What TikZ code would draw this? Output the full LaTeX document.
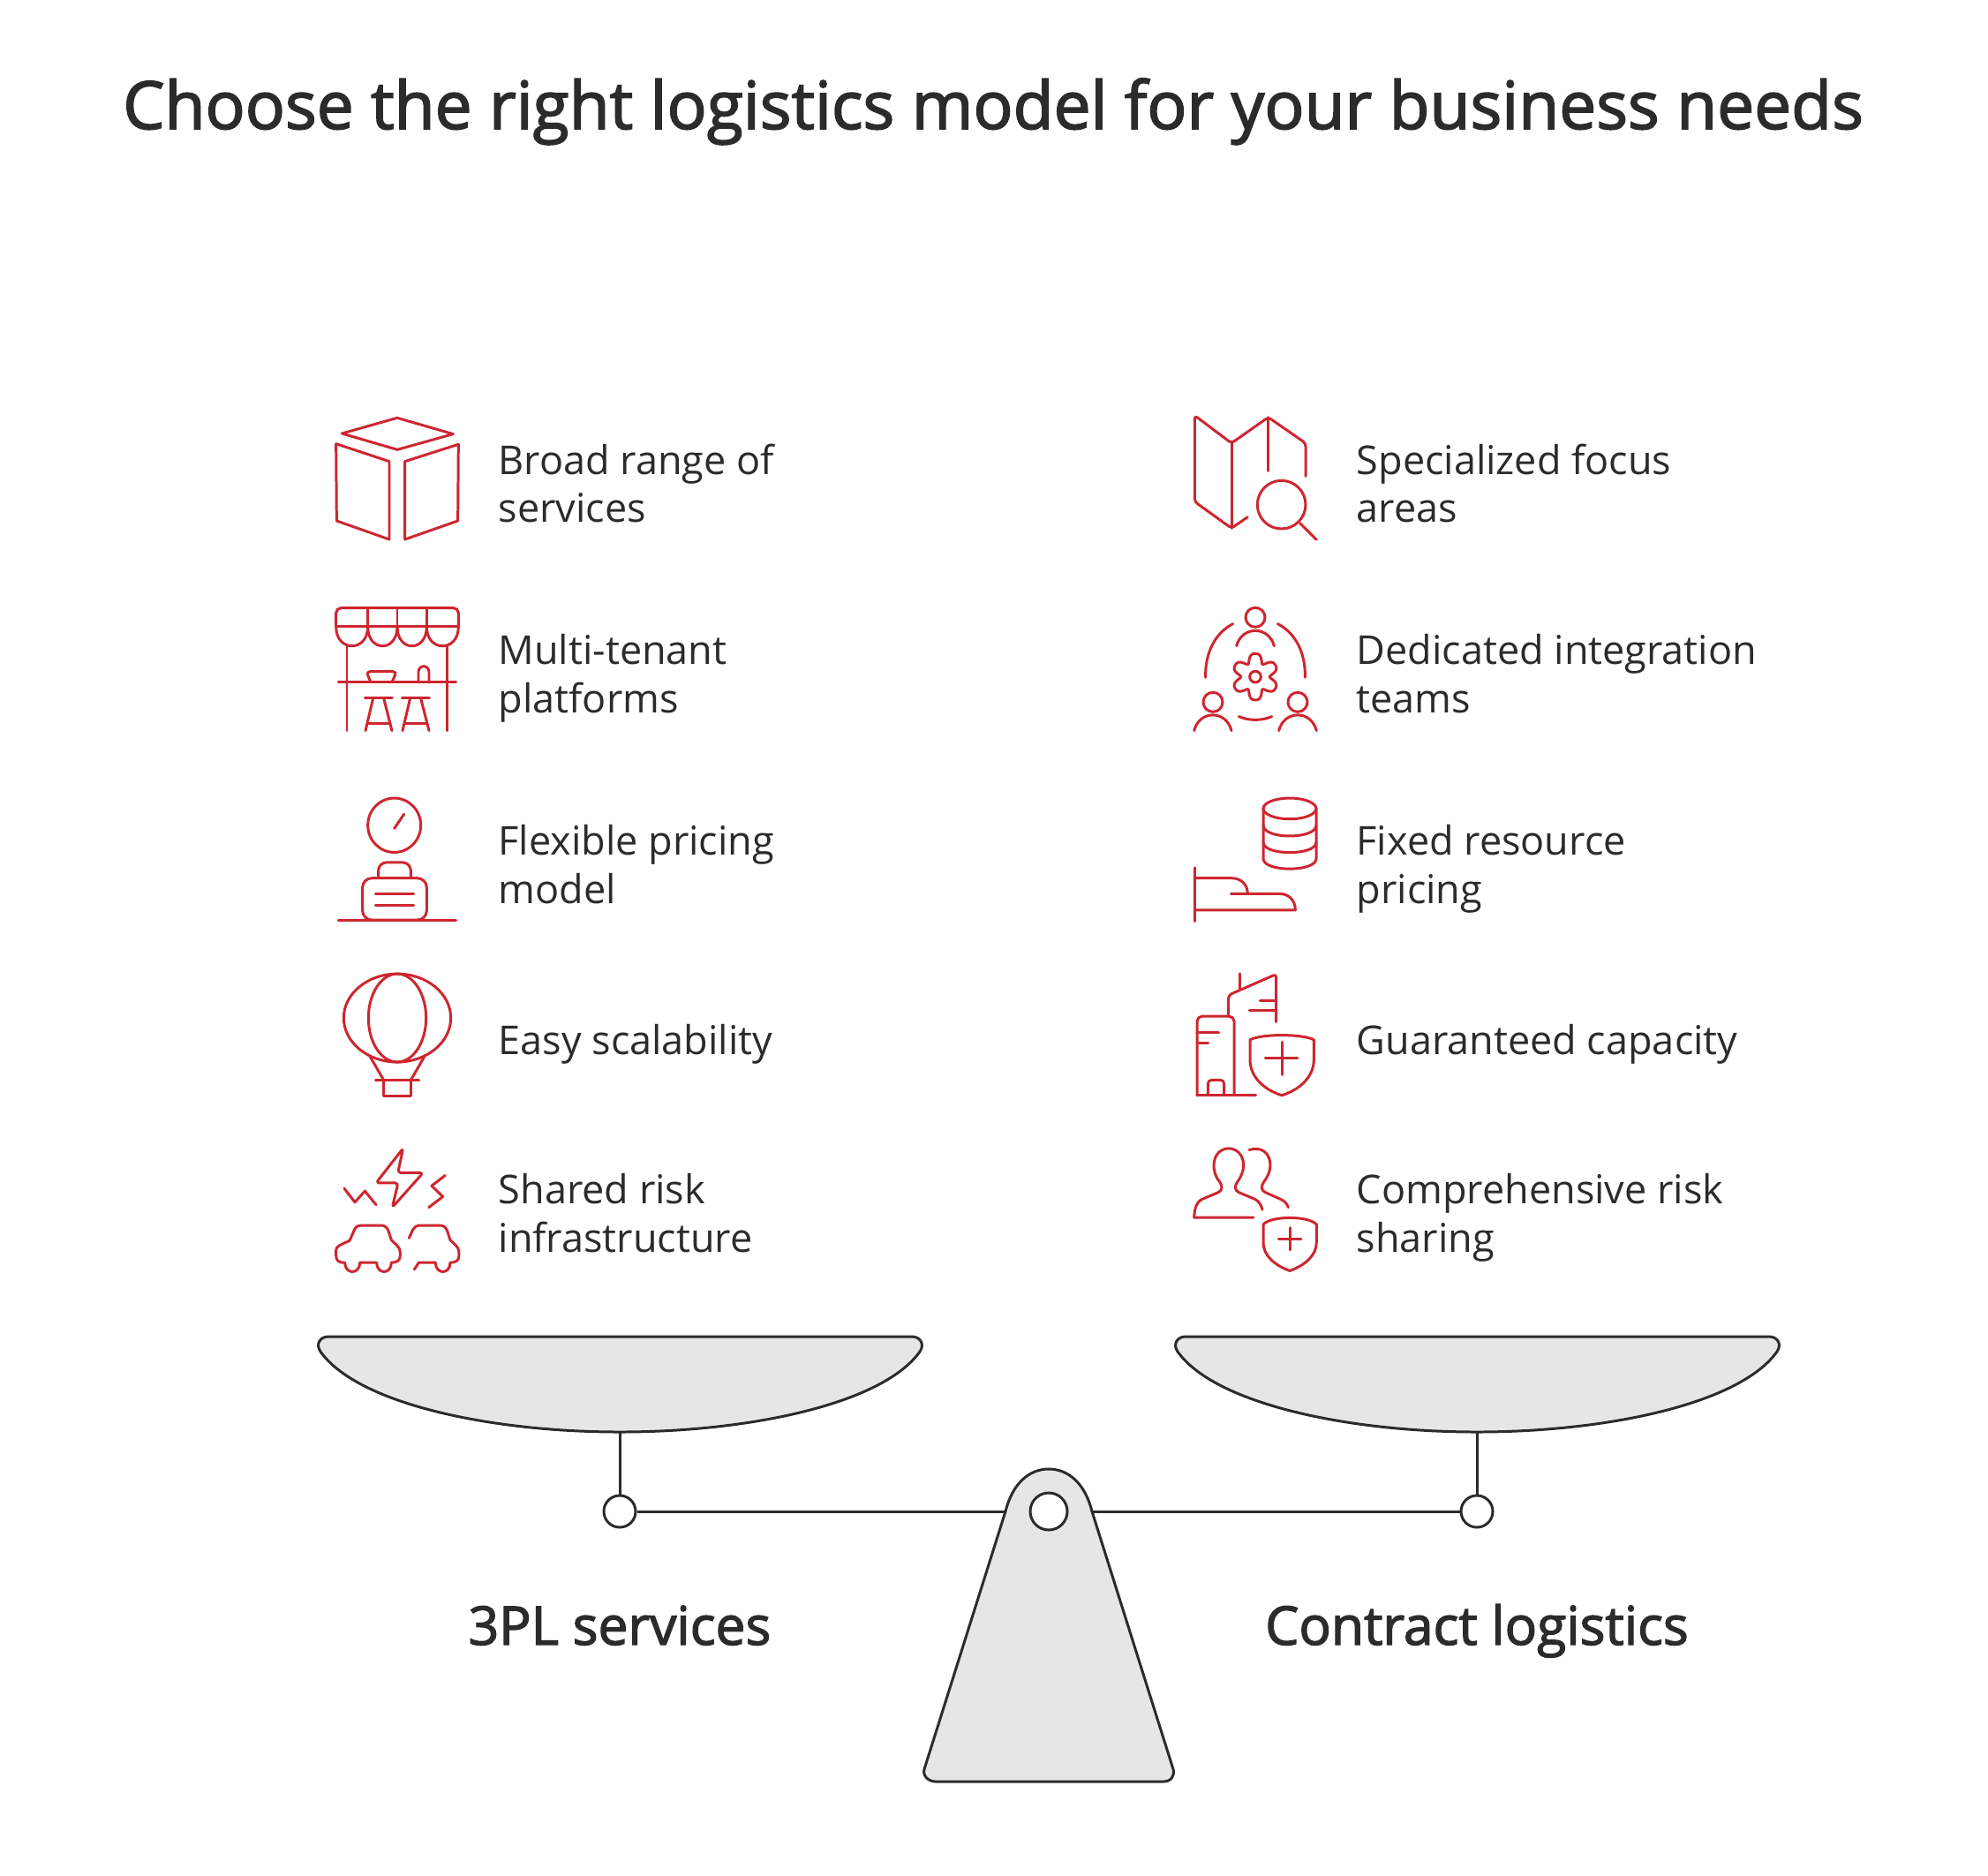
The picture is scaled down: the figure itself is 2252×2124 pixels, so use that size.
\documentclass[tikz,border=0pt]{standalone}
\usepackage{fontspec}
\setmainfont{Open Sans}
\newfontfamily\headfont[FakeBold=2.2]{Open Sans}
\usepackage{tikz}
\usetikzlibrary{backgrounds,positioning,calc}
\definecolor{iconred}{HTML}{CE2630}
\definecolor{inkgray}{HTML}{2B2B2B}
\definecolor{panfill}{HTML}{E6E6E6}
\tikzstyle{hinge}=[circle, draw=inkgray, fill=white, line width=0.85pt, inner sep=0pt, minimum size=0.36cm]
\tikzstyle{label}=[anchor=west, align=left, inner sep=0pt, text=inkgray, font=\fontsize{12.8pt}{15.4pt}\selectfont, execute at begin node=\strut, execute at end node=\strut]
\tikzstyle{side}=[anchor=base, inner sep=0pt, text=inkgray, font=\headfont\fontsize{17.2pt}{20pt}\selectfont]
\begin{document}
\begin{tikzpicture}[x=0.01cm,y=-0.01cm,
  icon/.style={draw=iconred,line width=0.85pt,line cap=round,line join=round},
  scalepart/.style={draw=inkgray,line width=0.85pt,fill=panfill,line join=round},
  zoomB/.style={xscale=0.3333,yscale=0.37}]
\useasboundingbox (0,0) rectangle (2252,2124);
\node (title) at (1125,146)[anchor=base,inner sep=0pt,text=inkgray,font=\headfont\fontsize{21.3pt}{26pt}\selectfont] {Choose the right logistics model for your business needs};

\node (t1) at (564,555)[label] {Broad range of\\services};
\node (t2) at (564,771)[label] {Multi-tenant\\platforms};
\node (t3) at (564,987)[label] {Flexible pricing\\model};
\node (t4) at (564,1184)[label] {Easy scalability};
\node (t5) at (564,1382)[label] {Shared risk\\infrastructure};
\node (r1) at (1536,555)[label] {Specialized focus\\areas};
\node (r2) at (1536,771)[label] {Dedicated integration\\teams};
\node (r3) at (1536,987)[label] {Fixed resource\\pricing};
\node (r4) at (1536,1184)[label] {Guaranteed capacity};
\node (r5) at (1536,1382)[label] {Comprehensive risk\\sharing};

\begin{scope}[shift={(360,450)},xscale=0.3333,yscale=0.3333]
\draw[icon] (270,70) -- (460,125) -- (270,178) -- (82,123) -- cycle;
\draw[icon] (62,158) -- (243,218) -- (243,483) -- (64,420) -- cycle;
\draw[icon] (296,218) -- (478,160) -- (476,420) -- (296,483) -- cycle;

\draw[icon,rounded corners=1.6pt] (62,780) -- (62,716) -- (478,716) -- (478,780);
\draw[icon] (62,780) -- (478,780);
\foreach \xa/\xb in {62/170,170/270,270/370,370/478}
  \draw[icon] (\xa,780) .. controls (\xa,867) and (\xb,867) .. (\xb,780);
\foreach \xa in {170,270,370}
  \draw[icon] (\xa,716) -- (\xa,780);
\draw[icon] (99,845) -- (99,1133);
\draw[icon] (441,845) -- (441,1133);
\draw[icon] (70,968) -- (470,968);
\draw[icon,rounded corners=1.2pt] (180,968) -- (165,932) -- (268,932) -- (252,968);
\draw[icon,rounded corners=1.8pt] (342,968) -- (342,914) -- (378,914) -- (378,968);
\foreach \xa in {0,126} {
  \draw[icon] (160+\xa,1023) -- (253+\xa,1023);
  \draw[icon] (188+\xa,1023) -- (162+\xa,1133);
  \draw[icon] (224+\xa,1023) -- (252+\xa,1133);
  \draw[icon] (172+\xa,1110) -- (242+\xa,1110);
}
\end{scope}

\begin{scope}[shift={(360,880)},zoomB]
\draw[icon] (260,148) ellipse [x radius=90,y radius=83];
\draw[icon] (260,158) -- (293,114);
\draw[icon,rounded corners=2.6pt] (206,308) -- (206,262) -- (316,262) -- (316,308);
\draw[icon,rounded corners=3pt] (152,310) rectangle (370,438);
\draw[icon] (196,358) -- (326,358);
\draw[icon] (196,392) -- (326,392);
\draw[icon] (70,439) -- (470,439);

\draw[icon] (270,738) ellipse [x radius=182,y radius=135];
\draw[icon] (270,738) ellipse [x radius=98,y radius=135];
\draw[icon] (175,852) -- (225,930);
\draw[icon] (365,852) -- (315,930);
\draw[icon] (196,929) -- (344,929);
\draw[icon] (224,930) -- (224,978) -- (316,978) -- (316,930);

\draw[icon,rounded corners=1pt] (290,1137) -- (272,1212) -- (358,1212) -- (253,1318) -- (273,1243) -- (198,1243) -- cycle;
\draw[icon] (90,1260) -- (126,1302) -- (160,1268) -- (198,1310);
\draw[icon] (433,1220) -- (387,1252) -- (425,1285) -- (377,1318);
\draw[icon] (108,1420) -- (125,1385) .. controls (130,1376) and (138,1373) .. (148,1373) -- (215,1373) .. controls (228,1373) and (236,1380) .. (240,1390) -- (250,1418) .. controls (260,1428) and (280,1438) .. (280,1455) -- (280,1465) .. controls (280,1480) and (270,1487) .. (250,1487)
  .. controls (250,1524) and (200,1524) .. (200,1487) -- (143,1487) .. controls (143,1524) and (92,1524) .. (92,1487) -- (85,1487) .. controls (70,1487) and (62,1478) .. (62,1465) -- (62,1450) .. controls (62,1438) and (70,1435) .. (108,1420) -- cycle;
\draw[icon] (310,1412) -- (322,1388) .. controls (328,1378) and (336,1373) .. (348,1373) -- (415,1373) .. controls (428,1373) and (436,1380) .. (440,1390) -- (450,1418) .. controls (460,1428) and (480,1438) .. (480,1455) -- (480,1465) .. controls (480,1480) and (470,1487) .. (450,1487)
  .. controls (450,1524) and (400,1524) .. (400,1487) -- (343,1487) -- (328,1508);
\end{scope}

\begin{scope}[shift={(1330,450)},xscale=0.3333,yscale=0.3333]
\draw[icon,rounded corners=1pt] (250,407) -- (195,445) -- (70,355) -- (70,62) -- (195,156) -- (320,68) -- (447,156) -- (447,268);
\draw[icon] (195,156) -- (195,445);
\draw[icon] (320,68) -- (320,250);
\draw[icon] (365,365) circle [radius=82];
\draw[icon] (428,428) -- (484,484);

\draw[icon] (276,748) circle [radius=33];
\draw[icon] (212,845) .. controls (230,776) and (322,776) .. (340,845);
\draw[icon] (132,1036) circle [radius=33];
\draw[icon] (68,1133) .. controls (86,1062) and (177,1062) .. (195,1133);
\draw[icon] (420,1036) circle [radius=33];
\draw[icon] (356,1133) .. controls (374,1062) and (466,1062) .. (484,1133);
\draw[icon] (200,770) .. controls (140,800) and (104,870) .. (107,952);
\draw[icon] (352,770) .. controls (412,800) and (448,870) .. (445,952);
\draw[icon] (220,1085) .. controls (255,1100) and (297,1100) .. (332,1085);
\draw[icon] plot[smooth,samples=121,domain=0:360] ({276+(67+15*cos(6*\x)-3*cos(12*\x))*cos(\x+90)},{950+(67+15*cos(6*\x)-3*cos(12*\x))*sin(\x+90)});
\draw[icon] (276,950) circle [radius=19];
\end{scope}

\begin{scope}[shift={(1330,880)},zoomB]
\draw[icon] (393,97) ellipse [x radius=90,y radius=32];
\draw[icon] (303,97) -- (303,250) .. controls (303,292) and (483,292) .. (483,250) -- (483,97);
\draw[icon] (303,148) .. controls (303,192) and (483,192) .. (483,148);
\draw[icon] (303,200) .. controls (303,242) and (483,242) .. (483,200);
\draw[icon] (69,278) -- (69,442);
\draw[icon] (69,310) -- (195,310) .. controls (228,310) and (250,330) .. (250,358);
\draw[icon] (193,358) -- (360,358) .. controls (392,358) and (412,380) .. (412,408) -- (69,408);

\draw[icon] (222,602) -- (222,648);
\draw[icon,rounded corners=1pt] (185,730) -- (185,668) -- (347,604) -- (347,750);
\draw[icon] (292,684) -- (347,684);
\draw[icon] (256,716) -- (347,716);
\draw[icon,rounded corners=1.6pt] (78,975) -- (78,733) -- (204,733) -- (204,975);
\draw[icon] (78,975) -- (278,975);
\draw[icon] (78,782) -- (152,782);
\draw[icon] (78,814) -- (116,814);
\draw[icon,rounded corners=1.2pt] (115,975) -- (115,928) -- (170,928) -- (170,975);
\draw[icon] (258,805) .. controls (295,786) and (437,786) .. (475,805) -- (475,865) .. controls (475,920) and (425,958) .. (366,975) .. controls (307,958) and (258,920) .. (258,865) -- cycle;
\draw[icon] (310,862) -- (420,862);
\draw[icon] (366,812) -- (366,912);

\draw[icon] (270,1349) -- (68,1349) .. controls (70,1320) and (75,1302) .. (95,1293) -- (150,1272) .. controls (165,1266) and (165,1252) .. (155,1240) .. controls (140,1225) and (135,1205) .. (135,1190) .. controls (135,1120) and (236,1120) .. (236,1190) .. controls (236,1205) and (228,1225) .. (215,1240) .. controls (205,1252) and (205,1266) .. (220,1272) -- (275,1293) .. controls (290,1300) and (296,1312) .. (300,1325);
\draw[icon] (255,1142) .. controls (295,1130) and (327,1150) .. (327,1190) .. controls (327,1205) and (318,1225) .. (305,1240) .. controls (295,1252) and (295,1266) .. (310,1272) -- (360,1292) .. controls (375,1298) and (384,1306) .. (388,1318);
\draw[icon] (303,1370) .. controls (330,1343) and (456,1343) .. (484,1370) -- (484,1425) .. controls (484,1465) and (445,1495) .. (393,1512) .. controls (341,1495) and (303,1465) .. (303,1425) -- cycle;
\draw[icon] (355,1414) -- (432,1414);
\draw[icon] (393,1380) -- (393,1448);
\end{scope}

\draw[scalepart] (372,1514) -- (1033,1514) .. controls (1042,1514) and (1048,1522) .. (1042,1531) .. controls (1000,1590) and (850,1622) .. (702,1622) .. controls (555,1622) and (405,1590) .. (363,1531) .. controls (357,1522) and (363,1514) .. (372,1514) -- cycle;
\draw[scalepart] (1343,1514) -- (2004,1514) .. controls (2013,1514) and (2019,1522) .. (2013,1531) .. controls (1971,1590) and (1821,1622) .. (1673,1622) .. controls (1526,1622) and (1376,1590) .. (1334,1531) .. controls (1328,1522) and (1334,1514) .. (1343,1514) -- cycle;
\coordinate (panL) at (702,1622);
\coordinate (panR) at (1673,1622);

\node (hingeL) at (702,1712)[hinge] {};
\node (hingeR) at (1673,1712)[hinge] {};
\node (pivot) at (1188,1712)[hinge,minimum size=0.42cm] {};
\draw[inkgray,line width=0.85pt] (panL) -- (hingeL);
\draw[inkgray,line width=0.85pt] (panR) -- (hingeR);
\begin{scope}[on background layer]
\draw[inkgray,line width=0.85pt] (hingeL) -- (pivot);
\draw[inkgray,line width=0.85pt] (hingeR) -- (pivot);
\draw[scalepart] (1060,2018) -- (1318,2018) .. controls (1327,2018) and (1331,2011) .. (1329,2004) -- (1237,1712) .. controls (1229,1680) and (1210,1664) .. (1188,1664) .. controls (1166,1664) and (1147,1680) .. (1139,1712) -- (1047,2004) .. controls (1045,2011) and (1051,2018) .. (1060,2018) -- cycle;
\end{scope}

\node (left) at (702,1863)[side] {3PL services};
\node (right) at (1673,1863)[side] {Contract logistics};
\end{tikzpicture}
\end{document}
